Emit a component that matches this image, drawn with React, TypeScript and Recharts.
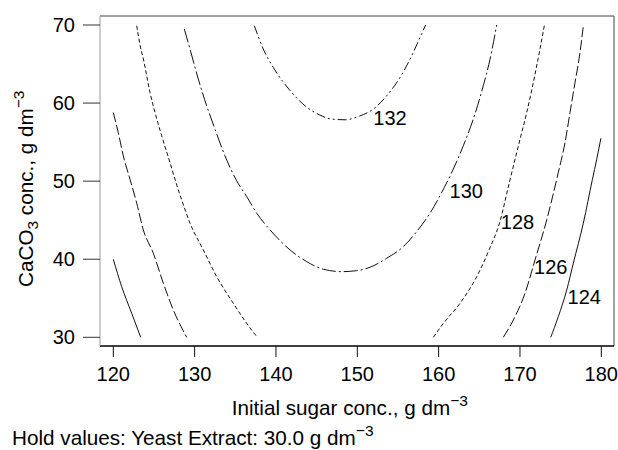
import React from 'react';
import { ComposedChart, Line, XAxis, YAxis, ReferenceLine, Scatter } from 'recharts';

const xTicks = [120, 130, 140, 150, 160, 170, 180];
const yTicks = [30, 40, 50, 60, 70];

// contour level 124
const c124Left = [
  { x: 120.0, y: 40.0 }, { x: 121.03, y: 36.49 }, { x: 122.26, y: 33.08 }, { x: 123.37, y: 30.0 },
];
const c124Right = [
  { x: 173.78, y: 30.0 }, { x: 174.71, y: 32.64 }, { x: 175.75, y: 36.06 }, { x: 176.56, y: 39.49 },
  { x: 177.79, y: 44.62 }, { x: 178.9, y: 50.2 }, { x: 179.44, y: 52.82 }, { x: 179.95, y: 55.5 },
];
// contour level 126
const c126Left = [
  { x: 120.0, y: 58.79 }, { x: 120.61, y: 56.23 }, { x: 121.23, y: 53.24 }, { x: 122.05, y: 50.26 },
  { x: 122.88, y: 47.18 }, { x: 123.69, y: 43.76 }, { x: 124.92, y: 40.77 }, { x: 126.15, y: 36.92 },
  { x: 127.38, y: 33.5 }, { x: 129.02, y: 30.0 },
];
const c126Right = [
  { x: 167.95, y: 30.0 }, { x: 169.39, y: 32.64 }, { x: 170.62, y: 35.64 }, { x: 171.85, y: 39.91 },
  { x: 173.29, y: 45.04 }, { x: 174.71, y: 51.1 }, { x: 175.54, y: 54.95 }, { x: 176.15, y: 58.79 },
  { x: 176.77, y: 62.64 }, { x: 177.38, y: 66.49 }, { x: 177.79, y: 69.91 },
];
// contour level 128
const c128Left = [
  { x: 122.88, y: 69.91 }, { x: 123.3, y: 67.4 }, { x: 123.75, y: 65.4 }, { x: 124.51, y: 61.36 },
  { x: 125.13, y: 58.79 }, { x: 125.95, y: 55.81 }, { x: 126.97, y: 52.38 }, { x: 127.71, y: 49.82 },
  { x: 128.41, y: 47.6 }, { x: 129.43, y: 44.62 }, { x: 131.07, y: 41.19 }, { x: 132.71, y: 37.77 },
  { x: 134.75, y: 34.36 }, { x: 136.4, y: 31.79 }, { x: 137.71, y: 30.0 },
];
const c128Right = [
  { x: 159.35, y: 30.0 }, { x: 160.58, y: 31.79 }, { x: 162.63, y: 34.36 }, { x: 164.68, y: 37.77 },
  { x: 166.2, y: 41.19 }, { x: 167.5, y: 44.7 }, { x: 168.7, y: 49.85 }, { x: 170.01, y: 55.38 },
  { x: 170.83, y: 58.79 }, { x: 171.64, y: 62.64 }, { x: 172.46, y: 66.92 }, { x: 172.99, y: 69.91 },
];
// contour level 130
const c130 = [
  { x: 128.73, y: 69.49 }, { x: 129.43, y: 66.92 }, { x: 130.45, y: 63.08 }, { x: 131.48, y: 59.65 },
  { x: 132.5, y: 56.67 }, { x: 133.73, y: 53.24 }, { x: 135.17, y: 50.04 }, { x: 136.4, y: 48.03 },
  { x: 137.63, y: 45.9 }, { x: 139.27, y: 43.76 }, { x: 141.73, y: 41.19 }, { x: 143.78, y: 39.69 },
  { x: 145.82, y: 38.72 }, { x: 148.08, y: 38.41 }, { x: 149.93, y: 38.54 }, { x: 151.56, y: 38.97 },
  { x: 153.62, y: 40.13 }, { x: 155.66, y: 41.62 }, { x: 157.3, y: 43.54 }, { x: 158.94, y: 45.9 },
  { x: 160.7, y: 49.2 }, { x: 161.8, y: 51.54 }, { x: 163.03, y: 54.53 }, { x: 164.26, y: 57.95 },
  { x: 165.49, y: 62.22 }, { x: 166.32, y: 65.64 }, { x: 167.14, y: 70.0 },
];
// contour level 132
const c132 = [
  { x: 137.34, y: 69.91 }, { x: 138.44, y: 66.92 }, { x: 139.67, y: 64.56 }, { x: 141.94, y: 61.36 },
  { x: 143.57, y: 59.65 }, { x: 145.41, y: 58.46 }, { x: 146.85, y: 57.95 }, { x: 148.49, y: 57.86 },
  { x: 150.12, y: 58.28 }, { x: 151.97, y: 59.23 }, { x: 153.62, y: 60.94 }, { x: 155.25, y: 63.28 },
  { x: 156.69, y: 66.06 }, { x: 157.71, y: 68.41 }, { x: 158.4, y: 70.0 },
];

const contourLabels = [
  { x: 154.02, y: 58.12, text: '132' },
  { x: 163.4, y: 48.73, text: '130' },
  { x: 169.7, y: 44.72, text: '128' },
  { x: 173.79, y: 38.95, text: '126' },
  { x: 177.9, y: 35.1, text: '124' },
];

const FONT = '"Liberation Sans", Arial, Helvetica, sans-serif';
const X_DOMAIN: [number, number] = [118.365, 181.56];
const Y_DOMAIN: [number, number] = [28.886, 71.153];

const W = 618;
const H = 450;
const TITLE_SIZE = 20.7;
const SUP_SIZE = 15.5;

const LabelShape = (props: any) => {
  const { cx, cy, payload } = props;
  return (
    <text x={cx} y={cy + 7} textAnchor="middle" fontSize={20} fontFamily={FONT} fill="#000">
      {payload.text}
    </text>
  );
};

const series = [
  { data: c124Left, dash: undefined },
  { data: c124Right, dash: undefined },
  { data: c126Left, dash: '10 3' },
  { data: c126Right, dash: '10 3' },
  { data: c128Left, dash: '4 2.5' },
  { data: c128Right, dash: '4 2.5' },
  { data: c130, dash: '14 3 2 3' },
  { data: c132, dash: '9 3 2 3 2 3' },
];

export default function App() {
  return (
    <div style={{ position: 'relative', width: W, height: H, overflow: 'hidden', fontFamily: FONT }}>
      <style>{'html,body{margin:0;padding:0;overflow:hidden;}'}</style>
      <ComposedChart width={W} height={H} margin={{ top: 16, right: 4, bottom: 64, left: 0 }}>
        <XAxis
          type="number"
          dataKey="x"
          domain={X_DOMAIN}
          ticks={xTicks}
          interval={0}
          allowDataOverflow
          height={40}
          tickSize={11}
          tickMargin={10}
          axisLine={{ stroke: '#000', strokeWidth: 1.5 }}
          tickLine={{ stroke: '#111' }}
          tick={{ fill: '#000', fontSize: 20, fontFamily: FONT }}
        />
        <YAxis
          type="number"
          dataKey="y"
          domain={Y_DOMAIN}
          ticks={yTicks}
          interval={0}
          allowDataOverflow
          width={100}
          tickSize={17}
          tickMargin={8}
          axisLine={{ stroke: '#999' }}
          tickLine={{ stroke: '#333' }}
          tick={{ fill: '#000', fontSize: 20, fontFamily: FONT }}
        />
        <ReferenceLine x={X_DOMAIN[1]} stroke="#444" strokeWidth={1} />
        <ReferenceLine y={Y_DOMAIN[1]} stroke="#444" strokeWidth={1} />
        {series.map((s, i) => (
          <Line
            key={i}
            data={s.data}
            dataKey="y"
            type="monotone"
            stroke="#111"
            strokeWidth={1}
            strokeDasharray={s.dash}
            dot={false}
            activeDot={false}
            isAnimationActive={false}
          />
        ))}
        <Scatter data={contourLabels} dataKey="y" shape={LabelShape} isAnimationActive={false} />
      </ComposedChart>
      <svg
        width={W}
        height={H}
        style={{ position: 'absolute', left: 0, top: 0, pointerEvents: 'none' }}
      >
        <text x={231.7} y={414.8} fontSize={TITLE_SIZE} fontFamily={FONT} fill="#000">
          Initial sugar conc., g dm
          <tspan fontSize={SUP_SIZE} dy={-9}>−3</tspan>
        </text>
        <text x={12} y={445.2} fontSize={TITLE_SIZE} fontFamily={FONT} fill="#000">
          Hold values: Yeast Extract: 30.0 g dm
          <tspan fontSize={SUP_SIZE} dy={-9}>−3</tspan>
        </text>
        <text
          x={33}
          y={287}
          transform="rotate(-90, 33, 287)"
          fontSize={TITLE_SIZE}
          fontFamily={FONT}
          fill="#000"
        >
          CaCO
          <tspan fontSize={SUP_SIZE} dy={5}>3</tspan>
          <tspan dy={-5}> conc., g dm</tspan>
          <tspan fontSize={SUP_SIZE} dy={-9}>−3</tspan>
        </text>
      </svg>
    </div>
  );
}
